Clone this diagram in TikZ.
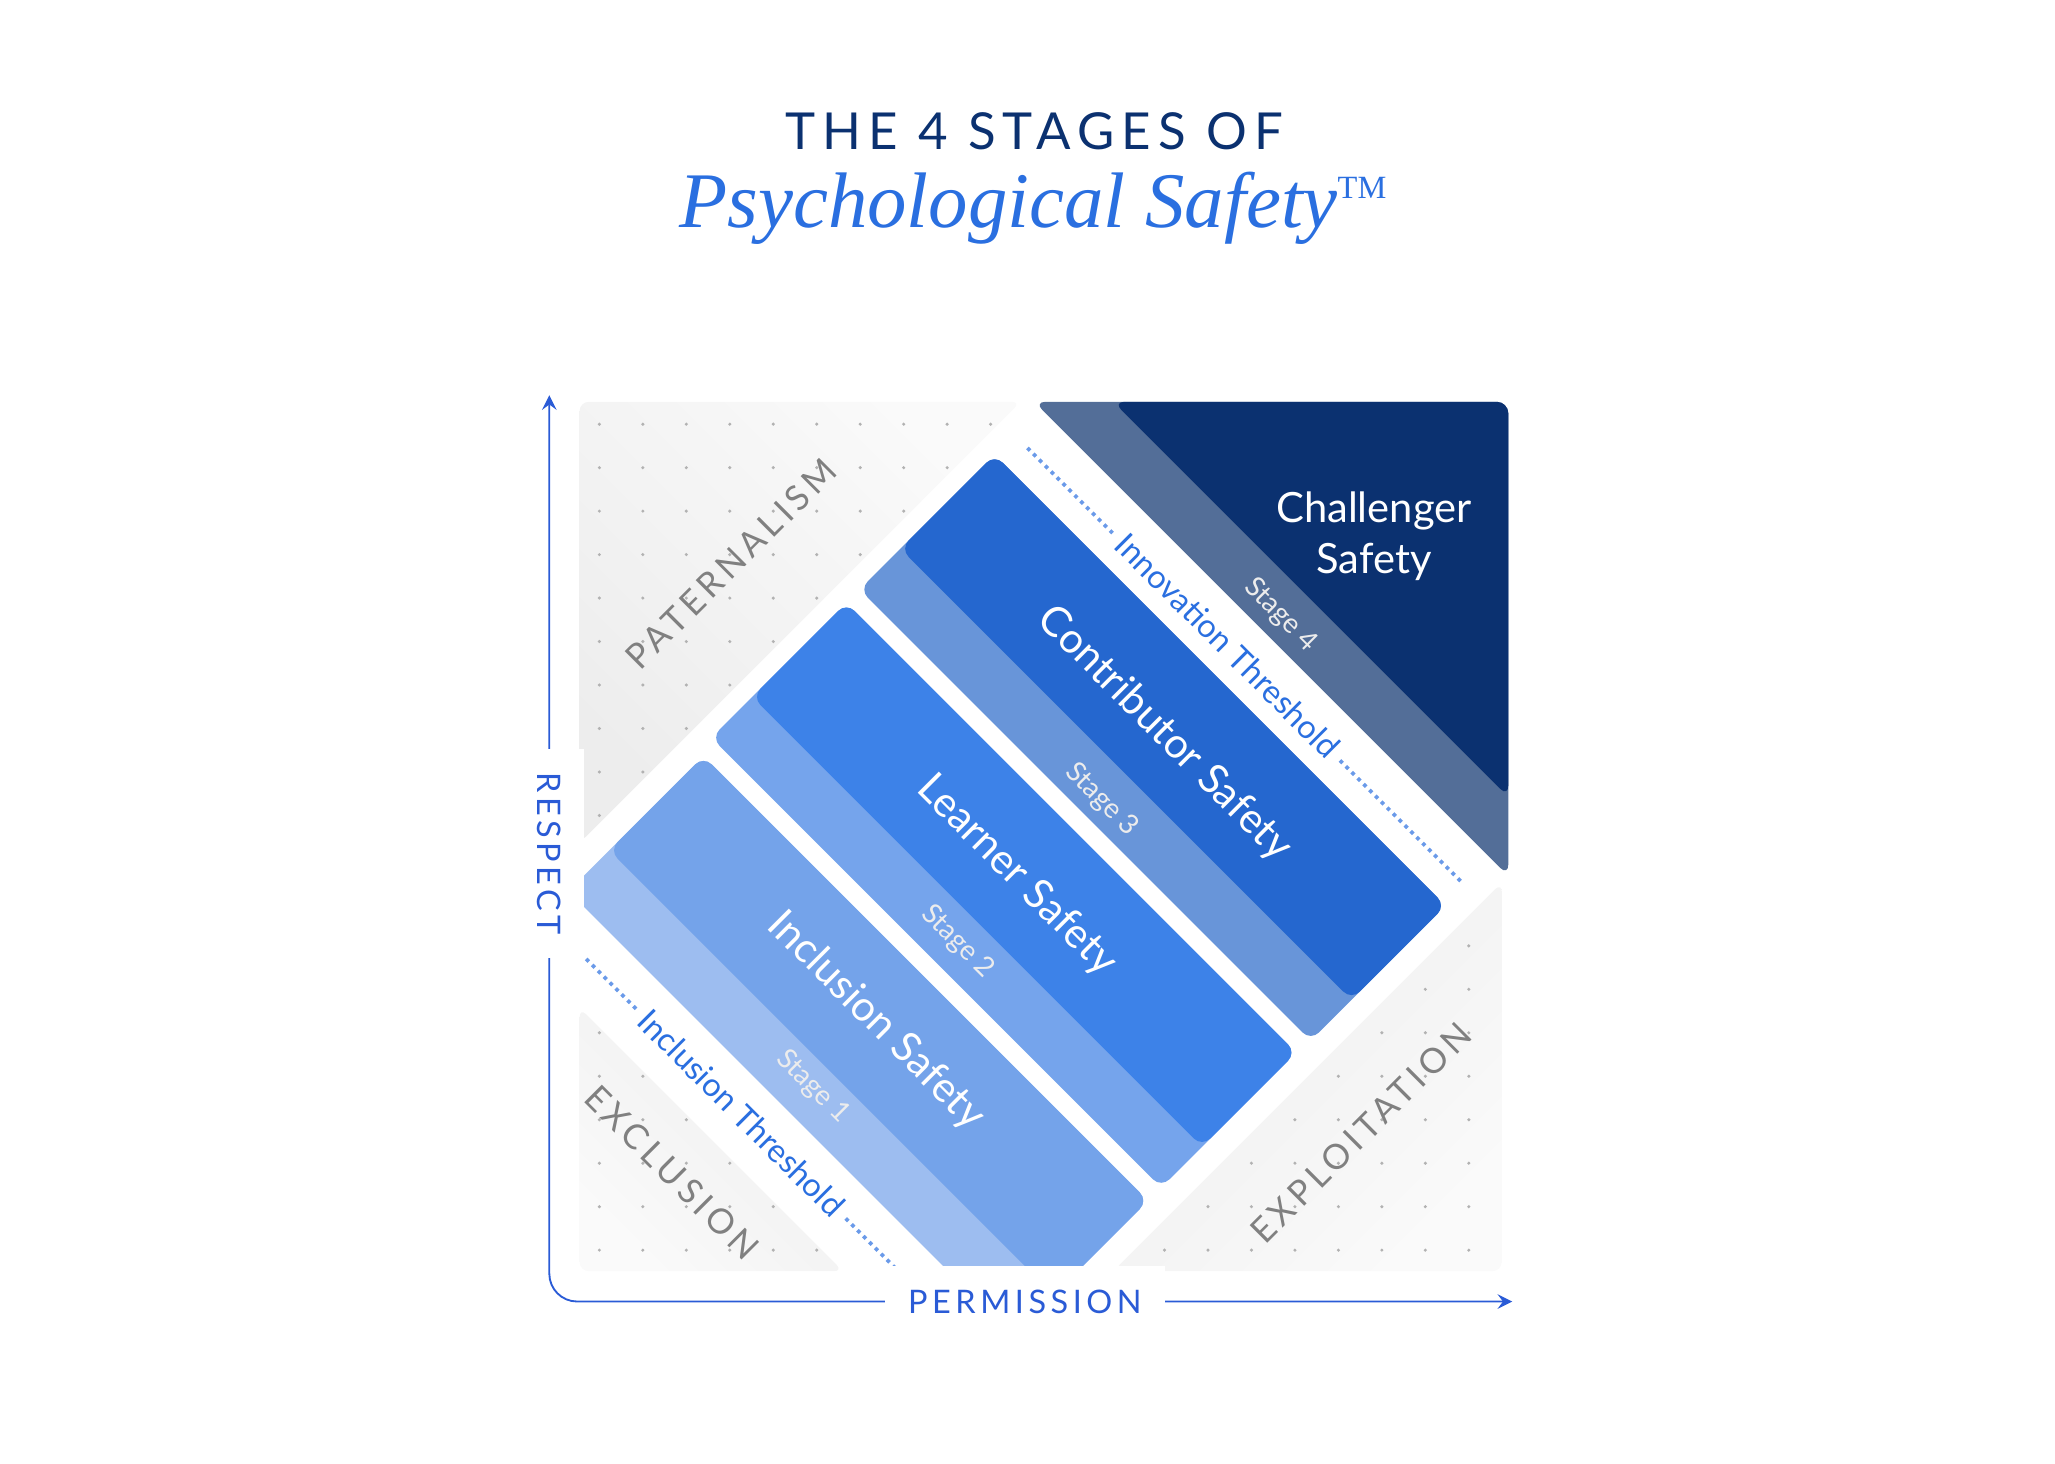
\documentclass[tikz,border=0pt]{standalone}
\usepackage{fontspec}
\setmainfont{Lato}
\newfontfamily\spaced[LetterSpace=14]{Lato}
\newfontfamily\titleserif{Liberation Serif}
\definecolor{navy}{HTML}{0B3170}
\definecolor{axisblue}{HTML}{2A5BD6}
\definecolor{threshblue}{HTML}{2A6FE0}
\definecolor{bandA}{HTML}{74A3EA}
\definecolor{stripA}{HTML}{9DBDF0}
\definecolor{bandB}{HTML}{3D82E8}
\definecolor{stripB}{HTML}{75A4EC}
\definecolor{bandC}{HTML}{2567CF}
\definecolor{stripC}{HTML}{6895D9}
\definecolor{stripD}{HTML}{536E98}
\begin{document}
\begin{tikzpicture}[x=0.01cm,y=-0.01cm,
    band label/.style={text=white,font=\fontsize{9}{11}\selectfont,rotate=-45},
    stage label/.style={text=white!85!gray,font=\fontsize{6}{7}\selectfont,rotate=-45},
    zone label/.style={text=gray,font=\spaced\fontsize{7.5}{9}\selectfont},
    thresh label/.style={text=threshblue,font=\fontsize{7}{8.5}\selectfont,rotate=-45},
    axis label/.style={text=axisblue,fill=white,inner sep=5pt,font=\spaced\fontsize{7}{8.5}\selectfont},
    zone/.style={left color=gray!4,right color=gray!14,shading angle=45}]
\useasboundingbox (0,0) rectangle (1560,1111);
% title
\node[text=navy,font=\spaced\fontsize{11}{13}\selectfont] (title) at (785,100) {THE 4 STAGES OF};
\node[text=threshblue,font=\titleserif\itshape\fontsize{17}{20}\selectfont] (subtitle) at (785,158) {Psychological Safety\textsuperscript{\upshape\fontsize{7}{8}\selectfont TM}};
% grey zones with dots
\begin{scope}
\clip[rounded corners=2pt] (440,305) -- (775,305) -- (440,640) -- cycle;
\shade[zone,shading angle=-45] (440,305) rectangle (775,640);
\foreach \x in {455,488,...,780} \foreach \y in {322,355,...,640} \fill[gray!60] (\x,\y) circle (1.3);
\end{scope}
\begin{scope}
\clip[rounded corners=2pt] (440,765) -- (640,965) -- (440,965) -- cycle;
\shade[zone,shading angle=135] (440,765) rectangle (640,965);
\foreach \x in {455,488,...,640} \foreach \y in {784,817,...,965} \fill[gray!60] (\x,\y) circle (1.3);
\end{scope}
\begin{scope}
\clip[rounded corners=2pt] (1140,670) -- (1140,965) -- (845,965) -- cycle;
\shade[zone,shading angle=225] (845,670) rectangle (1140,965);
\foreach \x in {851,884,...,1140} \foreach \y in {685,718,...,965} \fill[gray!60] (\x,\y) circle (1.3);
\end{scope}
% bands: y-x from a to b, x+y from s to e
\begin{scope}
\clip (440,300) rectangle (1146,966);
\foreach \a/\b/\s/\e/\main/\strip in {40/245/1108/1783/bandA/stripA, -185/20/1100/1783/bandB/stripB, -410/-205/1100/1785/bandC/stripC}{
  \fill[\strip,rounded corners=2.5pt] ({(\s-\a)/2},{(\s+\a)/2}) -- ({(\e-\a)/2},{(\e+\a)/2})
     -- ({(\e-\b)/2},{(\e+\b)/2}) -- ({(\s-\b)/2},{(\s+\b)/2}) -- cycle;
  \fill[\main,rounded corners=2.5pt] ({(\s-\a)/2},{(\s+\a)/2}) -- ({(\e-\a)/2},{(\e+\a)/2})
     -- ({(\e-\b+62)/2},{(\e+\b-62)/2}) -- ({(\s-\b+62)/2},{(\s+\b-62)/2}) -- cycle;
}
\end{scope}
\fill[stripD,rounded corners=2.5pt] (785,305) -- (1145,305) -- (1145,665) -- cycle;
\fill[navy,rounded corners=2.5pt] (845,305) -- (1145,305) -- (1145,605) -- cycle;
% thresholds
\coordinate (innovA) at (780,340);
\coordinate (innovB) at (1110,670);
\coordinate (inclA) at (445,728);
\coordinate (inclB) at (680,963);
\draw[threshblue!70,densely dotted,thick] (innovA) -- (innovB);
\draw[threshblue!70,densely dotted,thick] (inclA) -- (inclB);
\node[thresh label,fill=white,inner sep=2pt] (innov) at (932,490) {Innovation Threshold};
\node[thresh label,fill=white,inner sep=2pt] (incl) at (563,845) {Inclusion Threshold};
% labels
\node[band label] (incsafe) at (665,775) {Inclusion Safety};
\node[band label] (learn) at (772,665) {Learner Safety};
\node[band label] (contrib) at (884,557) {Contributor Safety};
\node[text=white,align=center,font=\fontsize{9}{11}\selectfont] (chall) at (1043,407) {Challenger\\Safety};
\node[stage label] (s1) at (617,825) {Stage 1};
\node[stage label] (s2) at (727,715) {Stage 2};
\node[stage label] (s3) at (836,607) {Stage 3};
\node[stage label] (s4) at (972,467) {Stage 4};
\node[zone label,rotate=45] (pat) at (555,428) {PATERNALISM};
\node[zone label,rotate=-45] (excl) at (510,890) {EXCLUSION};
\node[zone label,rotate=45] (expl) at (1033,860) {EXPLOITATION};
% axes
\coordinate (ytop) at (417,300);
\coordinate (corner) at (417,988);
\coordinate (xend) at (1148,988);
\draw[axisblue,<->,>=stealth,rounded corners=6pt] (ytop) -- (corner) -- (xend);
\node[axis label,rotate=-90] (respect) at (417,648) {RESPECT};
\node[axis label] (perm) at (778,988) {PERMISSION};
\end{tikzpicture}
\end{document}
